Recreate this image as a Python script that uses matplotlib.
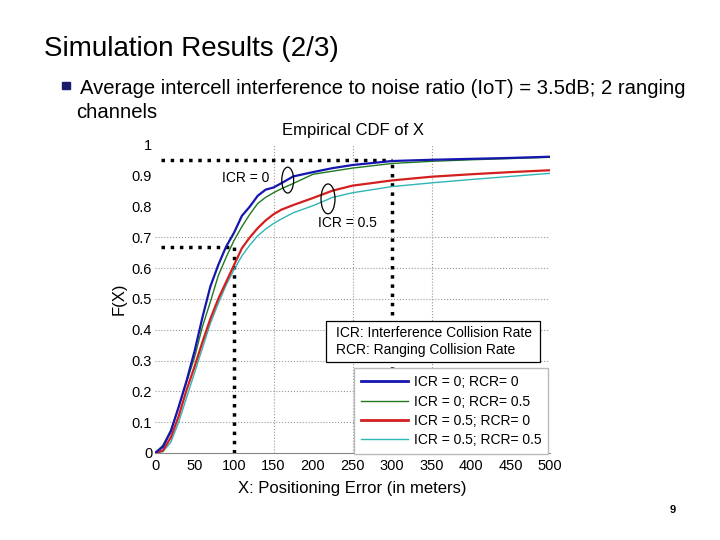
import matplotlib
matplotlib.use("Agg")
import matplotlib.pyplot as plt
from matplotlib.patches import Ellipse, Rectangle

plt.rcParams['font.family'] = ['Liberation Sans', 'DejaVu Sans']

# ---- data ----
x_err = [0, 10, 20, 30, 40, 50, 60, 70, 80, 90, 100, 110, 120, 130, 140, 150,
         160, 175, 200, 225, 250, 300, 350, 400, 450, 500]
cdf_icr0_rcr0 = [0, 0.02, 0.07, 0.15, 0.235, 0.33, 0.44, 0.54, 0.61, 0.67, 0.715,
                 0.77, 0.80, 0.835, 0.855, 0.862, 0.876, 0.898, 0.912, 0.925, 0.935,
                 0.948, 0.952, 0.955, 0.958, 0.962]
cdf_icr0_rcr05 = [0, 0.025, 0.075, 0.15, 0.23, 0.31, 0.41, 0.49, 0.575, 0.635, 0.69,
                  0.735, 0.775, 0.81, 0.83, 0.845, 0.858, 0.875, 0.905, 0.915, 0.925,
                  0.94, 0.947, 0.952, 0.956, 0.96]
cdf_icr05_rcr0 = [0, 0.008, 0.05, 0.12, 0.205, 0.28, 0.36, 0.435, 0.5, 0.555, 0.61,
                  0.665, 0.70, 0.73, 0.755, 0.775, 0.79, 0.805, 0.828, 0.852, 0.868,
                  0.885, 0.897, 0.905, 0.912, 0.918]
cdf_icr05_rcr05 = [0, 0.004, 0.035, 0.10, 0.18, 0.26, 0.34, 0.42, 0.485, 0.545, 0.595,
                   0.64, 0.675, 0.705, 0.727, 0.745, 0.76, 0.78, 0.803, 0.83, 0.845,
                   0.865, 0.877, 0.888, 0.898, 0.908]
series_labels = ["ICR = 0; RCR= 0", "ICR = 0; RCR= 0.5",
                 "ICR = 0.5; RCR= 0", "ICR = 0.5; RCR= 0.5"]
x_ticks = [0, 50, 100, 150, 200, 250, 300, 350, 400, 450, 500]
y_ticks = [0, 0.1, 0.2, 0.3, 0.4, 0.5, 0.6, 0.7, 0.8, 0.9, 1]
y_tick_labels = ["0", "0.1", "0.2", "0.3", "0.4", "0.5", "0.6", "0.7", "0.8", "0.9", "1"]
h_grid = [0.1, 0.2, 0.3, 0.4, 0.5, 0.6, 0.7]
v_grid = [150, 250, 350]
marker_x = [100, 300]
marker_y = [0.67, 0.95]

# ---- figure ----
fig = plt.figure(figsize=(7.2, 5.4), dpi=100)
fig.text(44/720, 1 - 49/540, "Simulation Results (2/3)", fontsize=20,
         va='center', ha='left')
fig.patches.append(Rectangle((62/720, 1 - 89/540), 8/720, 7/540,
                             transform=fig.transFigure, color='#1a1a6e'))
fig.text(80/720, 1 - 88/540,
         "Average intercell interference to noise ratio (IoT) = 3.5dB; 2 ranging",
         fontsize=14.6, va='center', ha='left')
fig.text(76/720, 1 - 113/540, "channels", fontsize=14.6, va='center', ha='left')
fig.text(673/720, 1 - 510/540, "9", fontsize=8, va='center', ha='center',
         fontweight='bold')

ax = fig.add_axes([155/720, 1 - 453/540, 395/720, 308/540])
ax.set_xlim(0, 500)
ax.set_ylim(0, 1)
for s in ['top', 'right', 'left']:
    ax.spines[s].set_visible(False)
ax.spines['bottom'].set_color('#888888')
ax.spines['bottom'].set_linewidth(0.8)

for g in h_grid:
    ax.axhline(g, color='#999999', ls=':', lw=0.8, zorder=0)
for g in v_grid:
    ax.axvline(g, color='#999999', ls=':', lw=0.8, zorder=0)

# black dotted reference lines
ax.plot([marker_x[0], marker_x[0]], [0, marker_y[0]], color='black', ls=':', lw=2.5, zorder=1)
ax.plot([8, marker_x[0]], [marker_y[0], marker_y[0]], color='black', ls=':', lw=2.5, zorder=1)
ax.plot([marker_x[1], marker_x[1]], [0, marker_y[1]], color='black', ls=':', lw=2.5, zorder=1)
ax.plot([8, marker_x[1]], [marker_y[1], marker_y[1]], color='black', ls=':', lw=2.5, zorder=1)

l1, = ax.plot(x_err, cdf_icr0_rcr0, color='#1515b0', lw=1.6, zorder=5)
l2, = ax.plot(x_err, cdf_icr0_rcr05, color='#1f7a1f', lw=1.0, zorder=4)
l3, = ax.plot(x_err, cdf_icr05_rcr0, color='#d41f1f', lw=1.6, zorder=3)
l4, = ax.plot(x_err, cdf_icr05_rcr05, color='#2fb5b5', lw=1.0, zorder=2)

ax.set_xticks(x_ticks)
ax.set_yticks(y_ticks)
ax.set_yticklabels(y_tick_labels)
ax.tick_params(axis='y', length=0, labelsize=10.5, pad=2)
ax.tick_params(axis='x', length=0, labelsize=10.5, pad=4)

ax.set_title("Empirical CDF of X", fontsize=12, pad=7)
ax.set_xlabel("X: Positioning Error (in meters)", fontsize=12, labelpad=6)
ax.set_ylabel("F(X)", fontsize=12, labelpad=4)

# annotations
ax.text(115, 0.893, "ICR = 0", fontsize=10, ha='center', va='center', zorder=6)
ax.add_patch(Ellipse((168, 0.886), 15, 0.084, fill=False, ec='black', lw=0.9, zorder=6))
ax.text(244, 0.747, "ICR = 0.5", fontsize=10, ha='center', va='center', zorder=6)
ax.add_patch(Ellipse((219, 0.825), 17.7, 0.097, fill=False, ec='black', lw=0.9, zorder=6))

# definition box
ax.add_patch(Rectangle((216.5, 0.295), 270.5, 0.134, fc='white', ec='black',
                       lw=0.9, zorder=7))
ax.text(229, 0.39, "ICR: Interference Collision Rate", fontsize=10,
        ha='left', va='center', zorder=8)
ax.text(229, 0.334, "RCR: Ranging Collision Rate", fontsize=10,
        ha='left', va='center', zorder=8)

leg = ax.legend([l1, l2, l3, l4], series_labels, loc='upper left',
                bbox_to_anchor=(252/500, 0.275), fontsize=10, frameon=True,
                fancybox=False, edgecolor='#bbbbbb', framealpha=1,
                handlelength=3.4, handletextpad=0.4, labelspacing=0.38,
                borderpad=0.5, borderaxespad=0)
leg.get_lines()[0].set_linewidth(2.0)
leg.get_lines()[2].set_linewidth(2.0)
leg.set_zorder(9)

fig.savefig("out.png", dpi=100)
